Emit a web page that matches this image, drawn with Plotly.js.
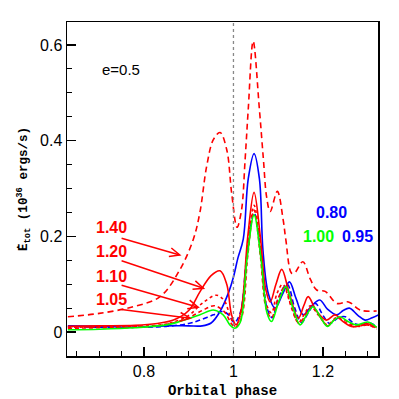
<!DOCTYPE html>
<html><head><meta charset="utf-8">
<script src="https://cdn.plot.ly/plotly-3.0.1.min.js"></script>
<style>html,body{margin:0;padding:0;background:#fff}</style>
</head><body><div id="g" style="width:399px;height:399px"></div>
<script>
// e = 1.40 (red dashed)
const x140 = [0.63,0.70,0.776,0.836,0.88,0.91,0.925,0.94,0.955,0.970,0.985,0.996,1.008,1.018,1.026,1.033,1.044,1.058,1.067,1.074,1.082,1.098,1.111,1.117,1.13,1.138,1.155,1.172,1.186,1.205,1.231,1.257,1.283,1.32];
const y140 = [0.032,0.039,0.053,0.074,0.130,0.193,0.250,0.346,0.402,0.417,0.381,0.29,0.219,0.255,0.36,0.465,0.608,0.465,0.36,0.283,0.252,0.294,0.235,0.193,0.123,0.125,0.147,0.11,0.088,0.085,0.060,0.063,0.046,0.044];
// 1.20 (red solid)
const x120 = [0.63,0.70,0.78,0.83,0.866,0.90,0.925,0.95,0.97,0.985,0.996,1.006,1.018,1.032,1.046,1.06,1.072,1.082,1.095,1.108,1.125,1.145,1.157,1.167,1.185,1.208,1.227,1.245,1.267,1.296,1.32];
const y120 = [0.012,0.013,0.014,0.018,0.025,0.045,0.084,0.118,0.128,0.10,0.035,0.015,0.05,0.20,0.292,0.20,0.09,0.063,0.10,0.131,0.08,0.029,0.055,0.074,0.045,0.025,0.036,0.022,0.011,0.018,0.010];
// 1.10 (red dotted)
const x110 = [0.63,0.70,0.78,0.85,0.90,0.93,0.962,0.98,0.992,1.004,1.018,1.032,1.046,1.06,1.073,1.085,1.097,1.11,1.127,1.145,1.16,1.172,1.19,1.21,1.23,1.25,1.27,1.30,1.32];
const y110 = [0.010,0.011,0.012,0.017,0.035,0.060,0.077,0.065,0.035,0.012,0.045,0.18,0.265,0.18,0.06,0.04,0.08,0.10,0.06,0.02,0.04,0.055,0.035,0.015,0.03,0.02,0.012,0.015,0.008];
// 1.05 (red short dash)
const x105 = [0.63,0.70,0.78,0.85,0.90,0.93,0.958,0.98,0.995,1.004,1.018,1.032,1.046,1.06,1.073,1.085,1.10,1.115,1.13,1.147,1.163,1.175,1.195,1.21,1.228,1.24,1.26,1.28,1.30,1.32];
const y105 = [0.008,0.009,0.010,0.016,0.030,0.045,0.055,0.042,0.018,0.010,0.03,0.16,0.255,0.16,0.05,0.03,0.07,0.095,0.05,0.018,0.04,0.052,0.03,0.013,0.028,0.03,0.018,0.012,0.015,0.006];
// 1.00 (green)
const x100 = [0.63,0.70,0.78,0.85,0.88,0.925,0.955,0.977,0.992,1.003,1.015,1.03,1.046,1.062,1.075,1.085,1.10,1.117,1.133,1.149,1.163,1.178,1.195,1.21,1.225,1.238,1.256,1.275,1.30,1.32];
const y100 = [0.005,0.006,0.009,0.015,0.022,0.036,0.046,0.036,0.015,0.008,0.02,0.15,0.245,0.15,0.04,0.022,0.06,0.095,0.05,0.015,0.035,0.053,0.03,0.012,0.025,0.032,0.022,0.015,0.021,0.010];
// 0.95 (blue dashed)
const x095 = [0.63,0.70,0.78,0.85,0.90,0.925,0.955,0.977,0.99,1.002,1.015,1.03,1.046,1.062,1.075,1.087,1.10,1.12,1.137,1.152,1.167,1.183,1.20,1.215,1.235,1.25,1.27,1.29,1.30,1.32];
const y095 = [0.012,0.010,0.010,0.012,0.018,0.025,0.036,0.043,0.035,0.02,0.04,0.16,0.249,0.16,0.05,0.03,0.07,0.10,0.05,0.02,0.04,0.06,0.035,0.018,0.03,0.032,0.018,0.015,0.02,0.012];
// 0.80 (blue solid)
const x080 = [0.63,0.70,0.78,0.85,0.90,0.93,0.95,0.97,0.99,1.0,1.01,1.022,1.033,1.046,1.058,1.066,1.078,1.093,1.11,1.125,1.14,1.156,1.175,1.193,1.21,1.231,1.245,1.259,1.278,1.294,1.31,1.324];
const y080 = [0.013,0.012,0.010,0.013,0.013,0.013,0.019,0.043,0.085,0.115,0.155,0.195,0.32,0.373,0.32,0.17,0.08,0.050,0.080,0.105,0.070,0.036,0.055,0.067,0.048,0.036,0.045,0.050,0.035,0.025,0.030,0.036];

// label texts and arrows (tail -> head) for the red series
const redLabels = ['1.40','1.20','1.10','1.05'];
const redLabelY = [0.218,0.168,0.117,0.068];
const arrowTail = [[0.750,0.196],[0.750,0.149],[0.750,0.098],[0.750,0.047]];
const arrowHead = [[0.880,0.161],[0.933,0.0915],[0.921,0.052],[0.903,0.029]];

const RED='#ff0000', BLUE='#0000ff', GREEN='#00ff00';
function tr(x,y,color,dash){return {x:x,y:y,mode:'lines',type:'scatter',line:{color:color,width:1.6,dash:dash,shape:'spline',smoothing:1},hoverinfo:'skip'};}
const data=[
  tr(x080,y080,BLUE,'solid'),
  tr(x095,y095,BLUE,'5px,3px'),
  tr(x105,y105,RED,'4px,3px'),
  tr(x110,y110,RED,'dot'),
  tr(x120,y120,RED,'solid'),
  tr(x140,y140,RED,'6px,4px'),
  tr(x100,y100,GREEN,'solid')
];

const XR=[0.628,1.323], YR=[-0.05,0.648];
const M={l:67,r:21,t:22,b:43}, W=399, H=399;
const sx=(W-M.l-M.r)/(XR[1]-XR[0]), sy=(H-M.t-M.b)/(YR[1]-YR[0]);

const labFont={family:'Liberation Sans, Arial, sans-serif',size:16};
function lab(t,x,y,c){return {text:'<b>'+t+'</b>',x:x,y:y,xref:'x',yref:'y',showarrow:false,font:Object.assign({},labFont,{color:c})};}
const ann=[
  {text:'e=0.5',x:0.749,y:0.549,xref:'x',yref:'y',showarrow:false,font:{family:'Liberation Sans, Arial, sans-serif',size:15,color:'#000'}},
  lab('0.80',1.218,0.249,BLUE), lab('1.00',1.189,0.200,GREEN), lab('0.95',1.278,0.200,BLUE)
];
redLabels.forEach((t,i)=>ann.push(lab(t,0.727,redLabelY[i],RED)));

const shapes=[{type:'line',xref:'x',yref:'paper',x0:1,x1:1,y0:0,y1:1,line:{color:'#888',width:1.3,dash:'dot'}}];
arrowTail.forEach((t,i)=>{
  const h=arrowHead[i];
  shapes.push({type:'line',xref:'x',yref:'y',x0:t[0],y0:t[1],x1:h[0],y1:h[1],line:{color:RED,width:1.5}});
  // open V head computed in pixel space
  const dx=(h[0]-t[0])*sx, dy=(h[1]-t[1])*sy, L=Math.hypot(dx,dy);
  const ux=dx/L, uy=dy/L, len=11, ang=0.42;
  const pts=[ang,-ang].map(a=>{
    const c=Math.cos(a), s=Math.sin(a);
    const bx=-(ux*c - uy*s)*len, by=-(ux*s + uy*c)*len;
    return [h[0]+bx/sx, h[1]+by/sy];
  });
  shapes.push({type:'path',xref:'x',yref:'y',
    path:`M ${pts[0][0]},${pts[0][1]} L ${h[0]},${h[1]} L ${pts[1][0]},${pts[1][1]}`,
    line:{color:RED,width:1.5}});
});

const axBase={ticks:'inside',ticklen:9,tickwidth:1.2,tickcolor:'#000',
  showgrid:false,zeroline:false,showline:true,linecolor:'#000',linewidth:1.5,mirror:true,
  tickfont:{family:'Liberation Sans, Arial, sans-serif',size:16,color:'#000'}};
const layout={
  width:W,height:H,margin:M,
  paper_bgcolor:'#fff',plot_bgcolor:'#fff',showlegend:false,
  xaxis:Object.assign({},axBase,{range:XR,dtick:0.2,tick0:0,
    minor:{dtick:0.05,ticks:'inside',ticklen:5,tickcolor:'#000',tickwidth:1},
    title:{text:'<b>Orbital phase</b>',font:{family:'Liberation Mono, monospace',size:14,color:'#000'},standoff:7}}),
  yaxis:Object.assign({},axBase,{range:YR,dtick:0.2,tick0:0,
    minor:{dtick:0.05,ticks:'inside',ticklen:5,tickcolor:'#000',tickwidth:1},
    title:{text:'<b>Ė<sub>tot</sub> (10<sup>36</sup> ergs/s)</b>',font:{family:'Liberation Mono, monospace',size:12.5,color:'#000'},standoff:9}}),
  shapes:shapes,
  annotations:ann
};
Plotly.newPlot('g',data,layout,{displayModeBar:false,staticPlot:true});
</script></body></html>
